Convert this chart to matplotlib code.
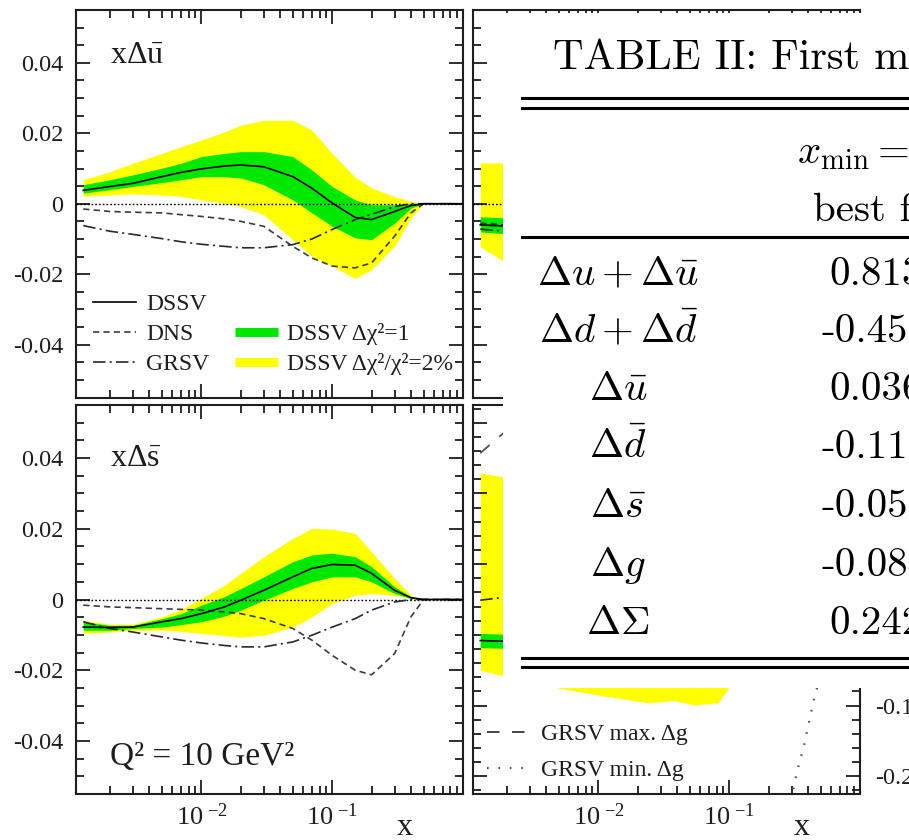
import numpy as np
import matplotlib
matplotlib.use("Agg")
import matplotlib.pyplot as plt
from matplotlib.lines import Line2D
from matplotlib.patches import Rectangle
from matplotlib.ticker import FixedLocator, LogLocator, NullFormatter, MultipleLocator

plt.rcParams.update({
    "font.family": "Liberation Serif",
    "mathtext.fontset": "custom",
    "mathtext.rm": "Liberation Serif",
    "mathtext.it": "Liberation Serif:italic",
    "mathtext.bf": "Liberation Serif:bold",
    "axes.unicode_minus": False,
    "lines.scale_dashes": False,
})

# ---------------- sea-quark distributions at Q^2 = 10 GeV^2 ----------------
x_sea = [0.00125, 0.002, 0.003, 0.005, 0.007, 0.01, 0.015, 0.02, 0.03, 0.05,
         0.07, 0.1, 0.15, 0.2, 0.3, 0.4, 0.5, 0.7, 1.0]

# x * Delta ubar
ubar_dssv = [0.0038, 0.0049, 0.0058, 0.0077, 0.0089, 0.0099, 0.0107, 0.0110, 0.0105, 0.0077,
             0.0044, 0.0002, -0.0039, -0.0045, -0.0022, -0.0005, 0, 0, 0]
ubar_chi1_hi = [0.0054, 0.0068, 0.0082, 0.0101, 0.0115, 0.0134, 0.0143, 0.0148, 0.0148, 0.0134,
                0.0096, 0.0049, 0.0011, -0.0003, -0.0003, 0.0, 0, 0, 0]
ubar_chi1_lo = [0.0030, 0.0040, 0.0049, 0.0060, 0.0068, 0.0077, 0.0077, 0.0073, 0.0054, 0.0011,
                -0.0026, -0.0064, -0.0097, -0.0102, -0.0055, -0.0012, 0, 0, 0]
ubar_chi2_hi = [0.0068, 0.0091, 0.0115, 0.0143, 0.0162, 0.0181, 0.0204, 0.0223, 0.0237, 0.0237,
                0.0209, 0.0143, 0.0075, 0.0045, 0.0020, 0.0007, 0, 0, 0]
ubar_chi2_lo = [0.0021, 0.0025, 0.0028, 0.0025, 0.0021, 0.0011, 0.0002, -0.0008, -0.0031, -0.0102,
                -0.0149, -0.0177, -0.0212, -0.0187, -0.0120, -0.0040, 0, 0, 0]
ubar_dns = [-0.0015, -0.0022, -0.0024, -0.0026, -0.0031, -0.0036, -0.0043, -0.0050, -0.0064, -0.0121,
            -0.0154, -0.0177, -0.0182, -0.0168, -0.0092, -0.0026, 0, 0, 0]
ubar_grsv = [-0.0062, -0.0078, -0.0087, -0.0099, -0.0108, -0.0115, -0.0121, -0.0125, -0.0125, -0.0116,
             -0.0100, -0.0073, -0.0045, -0.0030, -0.0008, 0, 0, 0, 0]

# x * Delta sbar
sbar_dssv = [-0.0078, -0.0079, -0.0078, -0.0063, -0.0054, -0.0040, -0.0021, -0.0002, 0.0026, 0.0064,
             0.0088, 0.0099, 0.0097, 0.0074, 0.0026, 0.0005, 0, 0, 0]
sbar_chi1_hi = [-0.0063, -0.0073, -0.0073, -0.0054, -0.0040, -0.0016, 0.0008, 0.0031, 0.0064, 0.0107,
                0.0126, 0.0131, 0.0121, 0.0093, 0.0036, 0.0008, 0, 0, 0]
sbar_chi1_lo = [-0.0087, -0.0087, -0.0082, -0.0078, -0.0071, -0.0063, -0.0047, -0.0030, -0.0002, 0.0031,
                0.0050, 0.0064, 0.0064, 0.0050, 0.0017, 0.0003, 0, 0, 0]
sbar_chi2_hi = [-0.0059, -0.0070, -0.0070, -0.0049, -0.0028, 0.0003, 0.0040, 0.0074, 0.0121, 0.0173,
                0.0201, 0.0199, 0.0187, 0.0135, 0.0060, 0.0012, 0, 0, 0]
sbar_chi2_lo = [-0.0096, -0.0092, -0.0087, -0.0087, -0.0090, -0.0096, -0.0102, -0.0106, -0.0101, -0.0078,
                -0.0049, -0.0011, 0.0012, 0.0017, 0.0012, 0.0003, 0, 0, 0]
sbar_dns = [-0.0016, -0.0021, -0.0023, -0.0026, -0.0028, -0.0030, -0.0035, -0.0040, -0.0054, -0.0082,
            -0.0115, -0.0158, -0.0200, -0.0213, -0.0153, -0.0049, 0, 0, 0]
sbar_grsv = [-0.0063, -0.0082, -0.0092, -0.0106, -0.0115, -0.0123, -0.0130, -0.0134, -0.0134, -0.0120,
             -0.0101, -0.0078, -0.0054, -0.0030, -0.0007, 0, 0, 0, 0]

# x * Delta dbar (small-x end)
x_dbar = [0.00125, 0.0019, 0.003]
dbar_dssv = [-0.0060, -0.0063, -0.0066]
dbar_chi1_hi = [-0.0037, -0.0040, -0.0043]
dbar_chi1_lo = [-0.0080, -0.0085, -0.0090]
dbar_chi2_hi = [0.0116, 0.0116, 0.0116]
dbar_chi2_lo = [-0.0122, -0.0164, -0.0190]
dbar_dns = [-0.0055, -0.0060, -0.0065]
dbar_grsv = [-0.0072, -0.0078, -0.0085]

# x * Delta g
x_g = [0.00125, 0.0019, 0.003, 0.0052, 0.01, 0.024, 0.038, 0.054, 0.082, 0.098, 0.15, 0.3, 0.5, 1.0]
g_chi2_hi = [0.229, 0.223, 0.21, 0.19, 0.16, 0.12, 0.10, 0.09, 0.07, 0.06, 0.04, 0.01, 0, 0]
g_chi2_lo = [-0.050, -0.058, -0.066, -0.076, -0.085, -0.096, -0.093, -0.099, -0.096, -0.076,
             -0.040, -0.010, 0, 0]
x_g_small = [0.00125, 0.0019, 0.003]
g_dssv = [-0.008, -0.009, -0.010]
g_chi1_hi = [0.002, 0.001, 0.0]
g_chi1_lo = [-0.018, -0.019, -0.020]
g_grsv_std = [0.049, 0.053, 0.058]
g_grsv_max = [0.257, 0.286, 0.340]
x_g_min = [0.29, 0.316, 0.334, 0.376, 0.41, 0.448, 0.55, 0.7, 1.0]
g_grsv_min = [-0.25, -0.209, -0.190, -0.154, -0.121, -0.088, -0.030, -0.005, 0]

# axis ticks
sea_yticks = [-0.04, -0.02, 0.0, 0.02, 0.04]
sea_ylabels = ["-0.04", "-0.02", "0", "0.02", "0.04"]
g_yticks = [-0.2, -0.1, 0.0, 0.1, 0.2, 0.3]
g_ylabels = ["-0.2", "-0.1", "0", "0.1", "0.2", "0.3"]
x_ticks = [0.01, 0.1, 1.0]
x_ticklabels = [r"$\mathrm{10}^{\ \mathrm{-2}}$", r"$\mathrm{10}^{\ \mathrm{-1}}$", ""]

# table contents
table_title = "TABLE II: First moments of polarized parton densities"
table_rows = [r"$\Delta u + \Delta\bar{u}$", r"$\Delta d + \Delta\bar{d}$", r"$\Delta\bar{u}$",
              r"$\Delta\bar{d}$", r"$\Delta\bar{s}$", r"$\Delta g$", r"$\Delta\Sigma$"]
table_vals = ["0.813", "-0.458", "0.036", "-0.115", "-0.057", "-0.084", "0.242"]

YELLOW = "#ffff00"
GREEN = "#00e800"
INK = "#1e1e1e"

W, H = 909, 840
fig = plt.figure(figsize=(W / 100, H / 100), dpi=100)
fig.patch.set_facecolor("white")


def fx(px):
    return px / W


def fy(py):
    return 1 - py / H


def add_panel(left, top, right, bottom):
    return fig.add_axes([fx(left), fy(bottom), fx(right) - fx(left), fy(top) - fy(bottom)])


ax_u = add_panel(76, 10, 463, 397.5)
ax_d = add_panel(473, 10, 860, 397.5)
ax_s = add_panel(76, 405, 463, 794)
ax_g = add_panel(473, 405, 860, 794)


def frame(ax, yticks, ylabels, ymajor_minor, ylim):
    ax.set_xscale("log")
    ax.set_xlim(0.0011, 1.0)
    ax.set_ylim(*ylim)
    ax.xaxis.set_major_locator(FixedLocator(x_ticks))
    ax.set_xticks(x_ticks, x_ticklabels)
    ax.xaxis.set_minor_locator(LogLocator(base=10, subs=np.arange(2, 10), numticks=20))
    ax.xaxis.set_minor_formatter(NullFormatter())
    ax.set_yticks(yticks, ylabels)
    ax.yaxis.set_minor_locator(MultipleLocator(ymajor_minor))
    ax.tick_params(which="both", direction="in", top=True, right=True, color=INK, width=1.3)
    ax.tick_params(which="major", length=10)
    ax.tick_params(which="minor", length=5.5)
    ax.tick_params(axis="y", labelsize=17.5, labelcolor=INK, pad=9)
    ax.tick_params(axis="x", labelsize=19, labelcolor=INK, pad=7)
    for sp in ax.spines.values():
        sp.set_linewidth(1.5)
        sp.set_color(INK)


sea_lim = (-0.055, 0.055)
for ax in (ax_u, ax_d, ax_s):
    frame(ax, sea_yticks, sea_ylabels, 0.005, sea_lim)
frame(ax_g, g_yticks, g_ylabels, 0.02, (-0.225, 0.325))

ax_u.tick_params(labelbottom=False)
ax_d.tick_params(labelbottom=False, labelleft=False)
ax_g.tick_params(labelleft=False, labelright=True)
ax_g.tick_params(axis="y", pad=11)

DNS_STYLE = dict(color="#3c3c3c", lw=1.2, linestyle=(0, (4.5, 3)))
GRSV_STYLE = dict(color="#2a2a2a", lw=1.2, linestyle=(0, (9, 3, 1.5, 3)))
DSSV_STYLE = dict(color="black", lw=1.2)


def sea_panel(ax, x, c2lo, c2hi, c1lo, c1hi, dssv, dns, grsv):
    ax.fill_between(x, c2lo, c2hi, color=YELLOW, lw=0, zorder=1)
    ax.fill_between(x, c1lo, c1hi, color=GREEN, lw=0, zorder=2)
    ax.axhline(0, color="black", lw=1.0, linestyle=(0, (1.2, 1.5)), zorder=3)
    ax.plot(x, dns, zorder=4, **DNS_STYLE)
    ax.plot(x, grsv, zorder=4, **GRSV_STYLE)
    ax.plot(x, dssv, zorder=5, **DSSV_STYLE)


sea_panel(ax_u, x_sea, ubar_chi2_lo, ubar_chi2_hi, ubar_chi1_lo, ubar_chi1_hi,
          ubar_dssv, ubar_dns, ubar_grsv)
sea_panel(ax_s, x_sea, sbar_chi2_lo, sbar_chi2_hi, sbar_chi1_lo, sbar_chi1_hi,
          sbar_dssv, sbar_dns, sbar_grsv)
sea_panel(ax_d, x_dbar, dbar_chi2_lo, dbar_chi2_hi, dbar_chi1_lo, dbar_chi1_hi,
          dbar_dssv, dbar_dns, dbar_grsv)

# gluon panel
ax_g.fill_between(x_g, g_chi2_lo, g_chi2_hi, color=YELLOW, lw=0, zorder=1)
ax_g.fill_between(x_g_small, g_chi1_lo, g_chi1_hi, color=GREEN, lw=0, zorder=2)
ax_g.plot(x_g_small, g_dssv, zorder=5, **DSSV_STYLE)
ax_g.plot(x_g_small, g_grsv_std, zorder=4, **GRSV_STYLE)
MAX_STYLE = dict(color="#555555", lw=1.3, linestyle=(0, (9, 9)))
MIN_STYLE = dict(color="#555555", lw=1.6, linestyle=(0, (1.2, 7)))
ax_g.plot(x_g_small, g_grsv_max, zorder=4, **MAX_STYLE)
ax_g.plot(x_g_min, g_grsv_min, zorder=4, **MIN_STYLE)

# panel labels
ax_u.text(0.088, 0.862, r"x$\Delta\bar{\mathrm{u}}$", transform=ax_u.transAxes,
          fontsize=23, color=INK, va="baseline")
ax_s.text(0.088, 0.843, r"x$\Delta\bar{\mathrm{s}}$", transform=ax_s.transAxes,
          fontsize=23, color=INK, va="baseline")
ax_s.text(0.088, 0.075, "Q² = 10 GeV²", transform=ax_s.transAxes,
          fontsize=24, color=INK, va="baseline")

for ax in (ax_s, ax_g):
    ax.set_xlabel("x", fontsize=23, color=INK, va="baseline")
    ax.xaxis.set_label_coords(0.85, -0.105)

# legends
leg_font = dict(size=17)
h_lines = [Line2D([], [], **DSSV_STYLE), Line2D([], [], **DNS_STYLE), Line2D([], [], **GRSV_STYLE)]
leg1 = ax_u.legend(h_lines, ["DSSV", "DNS", "GRSV"], loc="lower left",
                   bbox_to_anchor=(0.044, 0.057), frameon=False, prop=leg_font,
                   handlelength=1.8, handletextpad=0.45, labelspacing=0.36,
                   borderpad=0, borderaxespad=0, labelcolor=INK)
ax_u.add_artist(leg1)
h_bands = [Line2D([], [], color=GREEN, lw=6.5, solid_capstyle="butt"),
           Line2D([], [], color=YELLOW, lw=6.5, solid_capstyle="butt")]
ax_u.legend(h_bands, ["DSSV Δχ²=1", "DSSV Δχ²/χ²=2%"], loc="lower left",
            bbox_to_anchor=(0.411, 0.057), frameon=False, prop=leg_font,
            handlelength=1.8, handletextpad=0.4, labelspacing=0.36,
            borderpad=0, borderaxespad=0, labelcolor=INK)

h_g = [Line2D([], [], color="#333333", lw=1.3, linestyle=(0, (9, 9))),
       Line2D([], [], color="#555555", lw=1.6, linestyle=(0, (1.2, 7)))]
ax_g.legend(h_g, ["GRSV max. Δg", "GRSV min. Δg"], loc="lower left",
            bbox_to_anchor=(0.036, 0.033), frameon=False, prop=leg_font,
            handlelength=1.8, handletextpad=0.5, labelspacing=0.62,
            borderpad=0, borderaxespad=0, labelcolor=INK)

# ---------------- table of first moments ----------------
fig.add_artist(Rectangle((fx(503), fy(688)), 1 - fx(503), fy(13) - fy(688),
                         transform=fig.transFigure, facecolor="white", edgecolor="none",
                         zorder=10))
TFS = 29.5
fig.text(fx(553), fy(69), table_title, family="cmr10", fontsize=30.5, va="baseline",
         color="black", zorder=11)
for yy in (98, 108, 237, 658, 667):
    fig.add_artist(Line2D([fx(522), 1.0], [fy(yy), fy(yy)], transform=fig.transFigure,
                          color="black", lw=2.2, zorder=11))
fig.text(fx(797), fy(163), r"$x_{\rm min} = 0$", math_fontfamily="cm", fontsize=TFS,
         va="baseline", zorder=11)
fig.text(fx(813), fy(221), "best fit", family="cmr10", fontsize=TFS, va="baseline", zorder=11)
row_base = [285, 342, 400, 458, 517, 576, 634]
for lab, val, yb in zip(table_rows, table_vals, row_base):
    fig.text(fx(618), fy(yb), lab, math_fontfamily="cm", fontsize=TFS, ha="center",
             va="baseline", zorder=11)
    x0 = 822 if val.startswith("-") else 829
    fig.text(fx(x0), fy(yb), val, family="cmr10", fontsize=TFS, va="baseline", zorder=11)

fig.savefig("out.png", dpi=100, facecolor="white")
